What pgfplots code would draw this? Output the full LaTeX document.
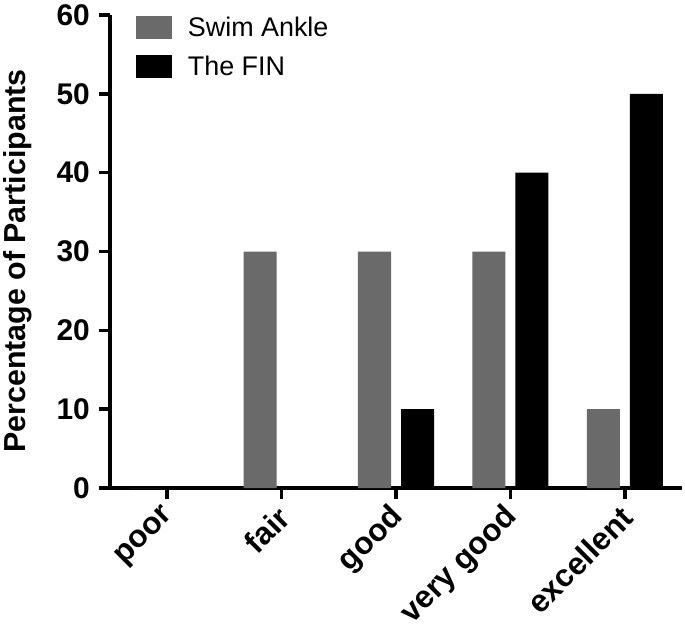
\documentclass[border=0pt]{standalone}
\usepackage{fontspec}
\setmainfont{Liberation Sans}
\usepackage{pgfplots}
\pgfplotsset{compat=1.18}
\definecolor{swimgray}{RGB}{106,106,106}
\begin{document}
\begin{tikzpicture}
\useasboundingbox (-110bp,-144bp) rectangle (575bp,488bp);
\begin{axis}[
 at={(0,0)}, anchor=south west,
 scale only axis, width=572bp, height=473bp,
 xmin=-0.5, xmax=4.5, ymin=0, ymax=60,
 axis x line=bottom, axis y line=left,
 axis line style={-, line width=3.5bp, black},
 xtick={0,...,4}, xticklabels={poor,fair,good,very good,excellent},
 ytick={0,10,...,60},
 tick align=outside, major tick length=11bp,
 tick style={black, line width=3.5bp},
 tick label style={font=\fontsize{30}{32}\selectfont\bfseries},
 /pgf/number format/assume math mode=true,
 xticklabel style={font=\fontsize{31.5}{33}\selectfont\bfseries, xshift=4bp, yshift=-12bp, rotate=45, anchor=east, inner sep=2bp},
 yticklabel style={inner sep=4bp, xshift=-5bp},
 ylabel={Percentage of Participants},
 ylabel style={font=\fontsize{30.5}{32}\selectfont\bfseries, at={(axis description cs:-0.162,0.48)}, anchor=center},
 ybar=10bp, bar width=33bp,
 legend style={draw=none, fill=none, at={(axis description cs:0.045,1)}, anchor=north west, font=\fontsize{27}{29}\selectfont, row sep=14bp, inner sep=0pt, /tikz/every odd column/.append style={column sep=14bp}},
 legend cell align=left,
 legend image code/.code={\draw[#1, draw=none] (0bp,-11.5bp) rectangle (36bp,11.5bp);},
]
\addplot[fill=swimgray, draw=none] coordinates {(0,0) (1,30) (2,30) (3,30) (4,10)};
\addplot[fill=black, draw=none] coordinates {(0,0) (1,0) (2,10) (3,40) (4,50)};
\legend{Swim Ankle, The FIN}
\end{axis}
\end{tikzpicture}
\end{document}
